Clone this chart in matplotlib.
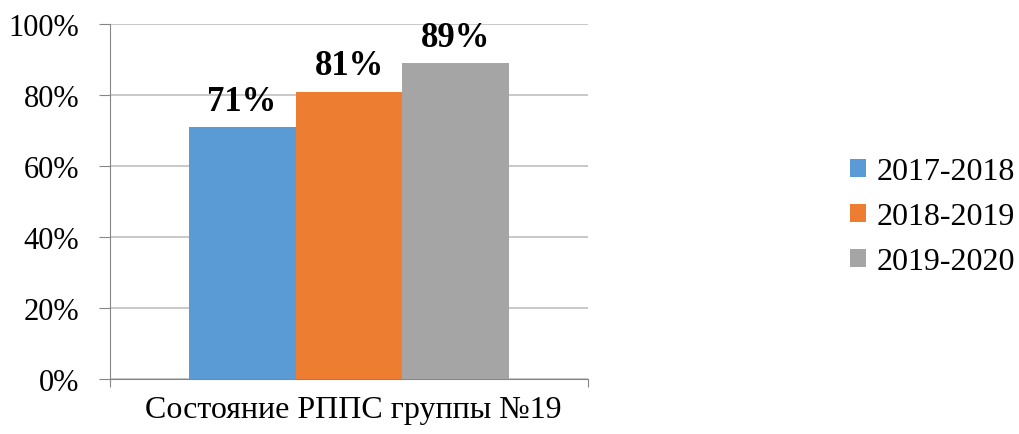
import matplotlib.pyplot as plt
import numpy as np

plt.rcParams['font.family'] = ['Liberation Serif', 'DejaVu Serif']

category = 'Состояние РППС группы №19'
years = ['2017-2018', '2018-2019', '2019-2020']
values = [71, 81, 89]
colors = ['#5b9bd5', '#ed7d31', '#a5a5a5']

fig = plt.figure(figsize=(10.19, 4.35), dpi=100)
ax = fig.add_axes([0.108, 0.126, 0.469, 0.816])

w = 0.2238
offsets = (np.arange(len(values)) - 1) * w
for off, v, c, lab in zip(offsets, values, colors, years):
    ax.bar(off, v, width=w, color=c, label=lab, zorder=3)
    ax.text(off, v + 2.6, f'{v}%', ha='center', va='bottom',
            fontsize=25, fontweight='bold', zorder=4)

ax.set_xlim(-0.5, 0.5)
ax.set_ylim(0, 100)
ax.set_yticks(np.arange(0, 101, 20))
ax.set_yticklabels([f'{t}%' for t in range(0, 101, 20)], fontsize=22)
ax.set_xticks([-0.5, 0.5])
ax.set_xticklabels(['', ''])
ax.tick_params(axis='x', length=6, color='#868686', direction='out')
ax.tick_params(axis='y', length=8, color='#868686', pad=14)
ax.grid(axis='y', color='#bfbfbf', linewidth=1.2, zorder=0)
for s in ['top', 'right']:
    ax.spines[s].set_visible(False)
ax.spines['left'].set_color('#868686')
ax.spines['bottom'].set_color('#868686')
ax.text(0.008, -0.045, category, transform=ax.get_xaxis_transform(),
        ha='center', va='top', fontsize=23)

fig.legend(loc='center left', bbox_to_anchor=(0.834, 0.5), frameon=False,
           fontsize=23, handlelength=0.5, handleheight=0.5,
           handletextpad=0.35, labelspacing=0.5, borderaxespad=0,
           borderpad=0)

fig.savefig('out.png', dpi=100)
